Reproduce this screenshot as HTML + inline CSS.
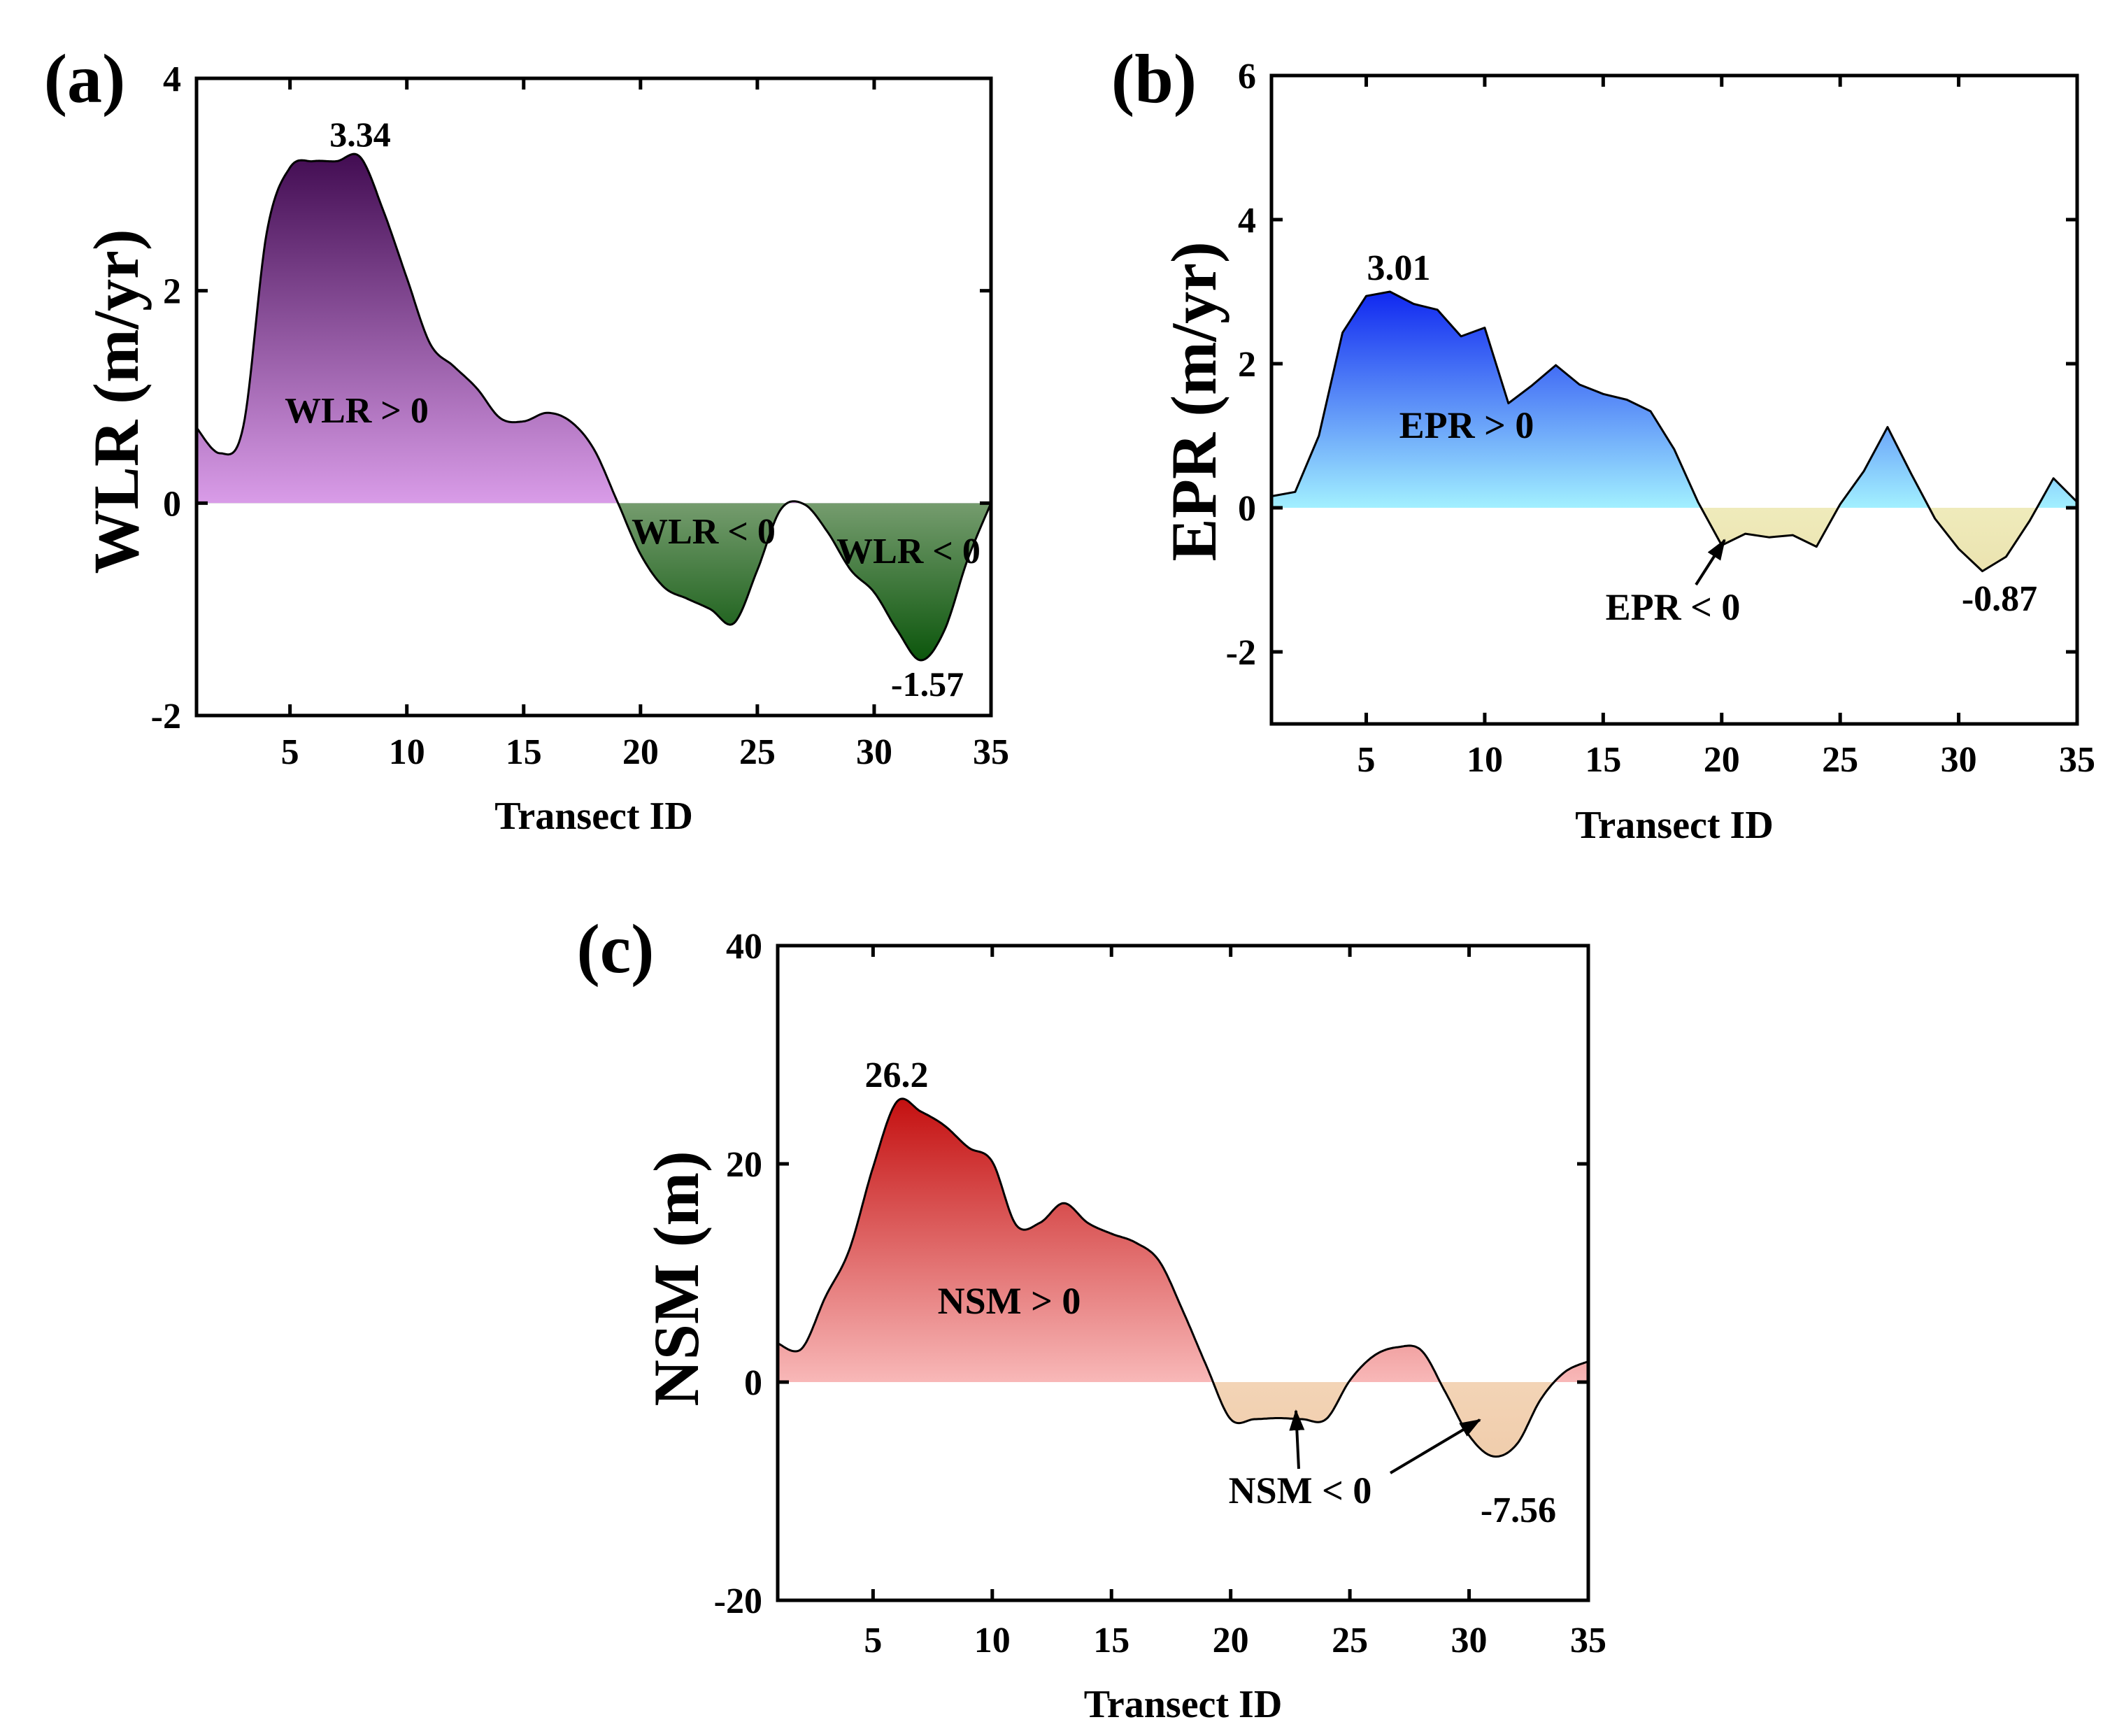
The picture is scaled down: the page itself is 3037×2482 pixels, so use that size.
<!DOCTYPE html>
<html><head><meta charset="utf-8"><style>
html,body{margin:0;padding:0;background:#fff}
svg{display:block}
text{font-family:"Liberation Serif",serif;font-weight:bold;fill:#000}
</style></head><body>
<svg id="fig" width="3037" height="2482" viewBox="0 0 3037 2482" xmlns="http://www.w3.org/2000/svg">
<defs>
<linearGradient id="gApos" x1="0" y1="0" x2="0" y2="1"><stop offset="0" stop-color="#420c52"/><stop offset="1" stop-color="#d99ce8"/></linearGradient>
<linearGradient id="gAneg" x1="0" y1="0" x2="0" y2="1"><stop offset="0" stop-color="#759c6e"/><stop offset="1" stop-color="#0c560c"/></linearGradient>
<linearGradient id="gBpos" x1="0" y1="0" x2="0" y2="1"><stop offset="0" stop-color="#1028f0"/><stop offset="1" stop-color="#a2f0ff"/></linearGradient>
<linearGradient id="gBneg" x1="0" y1="0" x2="0" y2="1"><stop offset="0" stop-color="#efebbb"/><stop offset="1" stop-color="#ebe3b0"/></linearGradient>
<linearGradient id="gCpos" x1="0" y1="0" x2="0" y2="1"><stop offset="0" stop-color="#c41010"/><stop offset="1" stop-color="#f8b8b8"/></linearGradient>
<linearGradient id="gCneg" x1="0" y1="0" x2="0" y2="1"><stop offset="0" stop-color="#f3d4b6"/><stop offset="1" stop-color="#f0cdac"/></linearGradient>
<marker id="arr" markerWidth="30" markerHeight="22" refX="28" refY="11" orient="auto" markerUnits="userSpaceOnUse" viewBox="0 0 30 22"><path d="M0,0 L30,11 L0,22 z" fill="#000"/></marker>
</defs>
<g id="panels"></g>
<text x="121" y="146" font-size="100" text-anchor="middle">(a)</text>
<text x="1650" y="146" font-size="100" text-anchor="middle">(b)</text>
<text x="880" y="1390" font-size="100" text-anchor="middle">(c)</text>

<text x="515" y="209" font-size="50" text-anchor="middle">3.34</text>
<text x="510" y="604" font-size="52" text-anchor="middle">WLR &gt; 0</text>
<text x="1006" y="777" font-size="52" text-anchor="middle">WLR &lt; 0</text>
<text x="1299" y="805" font-size="52" text-anchor="middle">WLR &lt; 0</text>
<text x="1326" y="995" font-size="50" text-anchor="middle">-1.57</text>

<text x="2000" y="400" font-size="52" text-anchor="middle">3.01</text>
<text x="2097" y="626" font-size="54" text-anchor="middle">EPR &gt; 0</text>
<text x="2392" y="886" font-size="54" text-anchor="middle">EPR &lt; 0</text>
<text x="2859" y="873" font-size="52" text-anchor="middle">-0.87</text>
<line x1="2425" y1="836" x2="2466" y2="772" stroke="#000" stroke-width="4" marker-end="url(#arr)"/>

<text x="1282" y="1554" font-size="52" text-anchor="middle">26.2</text>
<text x="1443" y="1878" font-size="54" text-anchor="middle">NSM &gt; 0</text>
<text x="1859" y="2149" font-size="54" text-anchor="middle">NSM &lt; 0</text>
<text x="2171" y="2176" font-size="52" text-anchor="middle">-7.56</text>
<line x1="1857" y1="2100" x2="1853" y2="2017" stroke="#000" stroke-width="4" marker-end="url(#arr)"/>
<line x1="1988" y1="2106" x2="2116" y2="2030" stroke="#000" stroke-width="4" marker-end="url(#arr)"/>
</svg>
<script>
const transectIds = [1,2,3,4,5,6,7,8,9,10,11,12,13,14,15,16,17,18,19,20,21,22,23,24,25,26,27,28,29,30,31,32,33,34,35];
const wlrValues = [0.71,0.47,0.72,2.54,3.16,3.22,3.22,3.26,2.75,2.12,1.5,1.29,1.08,0.8,0.77,0.85,0.77,0.51,0.02,-0.48,-0.79,-0.9,-1.0,-1.13,-0.63,-0.06,-0.01,-0.27,-0.63,-0.84,-1.2,-1.48,-1.2,-0.53,0.0];
const eprValues = [0.16,0.22,1.0,2.43,2.94,3.0,2.83,2.75,2.38,2.5,1.45,1.7,1.98,1.71,1.58,1.5,1.34,0.81,0.08,-0.52,-0.36,-0.41,-0.38,-0.54,0.05,0.51,1.12,0.47,-0.15,-0.57,-0.88,-0.68,-0.18,0.41,0.08];
const nsmValues = [3.55,3.05,7.8,12.1,19.7,25.7,24.8,23.5,21.5,20.2,14.4,14.6,16.4,14.6,13.6,12.8,11.1,6.5,1.4,-3.4,-3.4,-3.3,-3.4,-3.4,0.15,2.4,3.2,2.9,-0.9,-4.9,-6.8,-5.7,-1.6,0.9,1.9];
const xTicks = [5,10,15,20,25,30,35];
const wlrTicks = [-2,0,2,4];
const eprTicks = [-2,0,2,4,6];
const nsmTicks = [-20,0,20,40];

const NS='http://www.w3.org/2000/svg';
const root=document.getElementById('panels');
function mk(tag,attrs,parent){const e=document.createElementNS(NS,tag);for(const k in attrs)e.setAttribute(k,attrs[k]);(parent||root).appendChild(e);return e;}

function catmull(pts,n){
  const out=[];
  for(let i=0;i<pts.length-1;i++){
    const p0=pts[Math.max(i-1,0)],p1=pts[i],p2=pts[i+1],p3=pts[Math.min(i+2,pts.length-1)];
    for(let s=0;s<n;s++){const t=s/n,t2=t*t,t3=t2*t;
      const f=(a,b,c,d)=>0.5*((2*b)+(-a+c)*t+(2*a-5*b+4*c-d)*t2+(-a+3*b-3*c+d)*t3);
      out.push([f(p0[0],p1[0],p2[0],p3[0]),f(p0[1],p1[1],p2[1],p3[1])]);}
  }
  out.push(pts[pts.length-1]);return out;
}

function panel(cfg){
  const g=mk('g',{});
  
  
  const {L,R,T,B,ymin,ymax}=cfg;
  const sx=v=>L+(v-1)/(34)*(R-L);
  const sy=v=>B-(v-ymin)/(ymax-ymin)*(B-T);
  const y0=sy(0);
  let pts=transectIds.map((id,i)=>[sx(id),sy(cfg.values[i])]);
  pts=catmull(pts,cfg.smooth?16:1);
  if(!cfg.smooth){
    // insert zero crossings for clean fills
    const o=[];for(let i=0;i<pts.length;i++){if(i>0){const a=pts[i-1],b=pts[i];if((a[1]-y0)*(b[1]-y0)<0){const t=(y0-a[1])/(b[1]-a[1]);o.push([a[0]+t*(b[0]-a[0]),y0]);}}o.push(pts[i]);}pts=o;
  }
  const pos=pts.map(p=>[p[0],Math.min(p[1],y0)]);
  const neg=pts.map(p=>[p[0],Math.max(p[1],y0)]);
  const poly=a=>'M'+a[0][0]+','+y0+' '+a.map(p=>'L'+p[0].toFixed(1)+','+p[1].toFixed(1)).join(' ')+' L'+a[a.length-1][0]+','+y0+' Z';
  const fp=mk('path',{d:poly(pos),fill:cfg.posFill,stroke:'none'},g);
  
  
  const fn=mk('path',{d:poly(neg),fill:cfg.negFill,stroke:'none'},g);
  
  
  const ln=mk('path',{d:'M'+pts.map(p=>p[0].toFixed(1)+','+p[1].toFixed(1)).join(' L'),fill:'none',stroke:'#000','stroke-width':3,'stroke-linejoin':'round'},g);
  
  
  const fr=mk('rect',{x:L,y:T,width:R-L,height:B-T,fill:'none',stroke:'#000','stroke-width':5},g);
  
  
  xTicks.forEach(v=>{const x=sx(v);
    mk('line',{x1:x,y1:B,x2:x,y2:B-16,stroke:'#000','stroke-width':5},g);
    mk('line',{x1:x,y1:T,x2:x,y2:T+16,stroke:'#000','stroke-width':5},g);
    const t=mk('text',{x:x,y:cfg.xLabY,'font-size':52,'text-anchor':'middle'},g);t.textContent=v;
    
    });
  cfg.ticks.forEach(v=>{const y=sy(v);
    mk('line',{x1:L,y1:y,x2:L+16,y2:y,stroke:'#000','stroke-width':5},g);
    mk('line',{x1:R,y1:y,x2:R-16,y2:y,stroke:'#000','stroke-width':5},g);
    const t=mk('text',{x:L-22,y:y+18,'font-size':52,'text-anchor':'end'},g);t.textContent=v;
    
    });
  const xt=mk('text',{x:(L+R)/2,y:cfg.xTitleY,'font-size':56,'text-anchor':'middle'},g);xt.textContent='Transect ID';
  
  
  const yt=mk('text',{x:0,y:0,'font-size':92,'text-anchor':'middle',transform:`translate(${cfg.yTitleX},${cfg.yTitleY}) rotate(-90)`},g);yt.textContent=cfg.yTitle;
  
  
}
panel({name:'wlr-panel',values:wlrValues,smooth:true,L:281,R:1417,T:112,B:1023,ymin:-2,ymax:4,ticks:wlrTicks,posFill:'url(#gApos)',negFill:'url(#gAneg)',xLabY:1092,xTitleY:1185,yTitle:'WLR (m/yr)',yTitleX:197,yTitleY:574});
panel({name:'epr-panel',values:eprValues,smooth:false,L:1818,R:2970,T:108,B:1035,ymin:-3,ymax:6,ticks:eprTicks,posFill:'url(#gBpos)',negFill:'url(#gBneg)',xLabY:1103,xTitleY:1198,yTitle:'EPR (m/yr)',yTitleX:1738,yTitleY:574});
panel({name:'nsm-panel',values:nsmValues,smooth:true,L:1112,R:2271,T:1352,B:2288,ymin:-20,ymax:40,ticks:nsmTicks,posFill:'url(#gCpos)',negFill:'url(#gCneg)',xLabY:2362,xTitleY:2455,yTitle:'NSM (m)',yTitleX:998,yTitleY:1828});
</script>
</body></html>
